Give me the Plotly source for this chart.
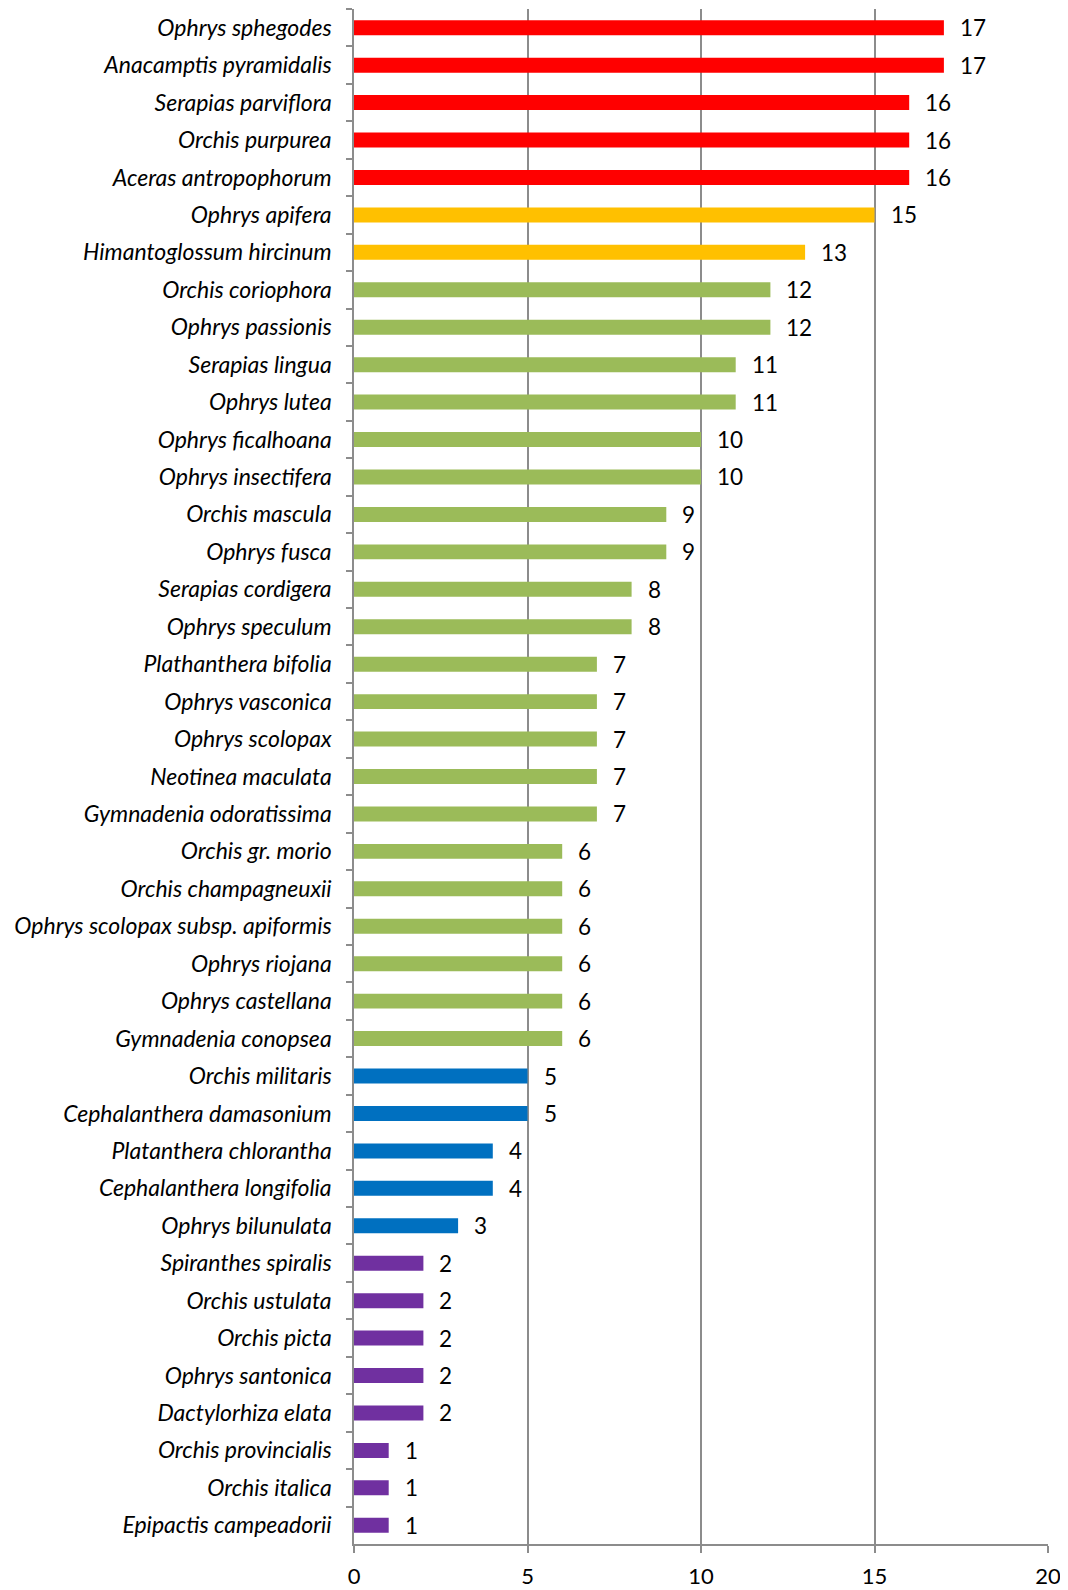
import plotly.graph_objects as go

species = [
    "Ophrys sphegodes", "Anacamptis pyramidalis", "Serapias parviflora", "Orchis purpurea",
    "Aceras antropophorum", "Ophrys apifera", "Himantoglossum hircinum", "Orchis coriophora",
    "Ophrys passionis", "Serapias lingua", "Ophrys lutea", "Ophrys ficalhoana",
    "Ophrys insectifera", "Orchis mascula", "Ophrys fusca", "Serapias cordigera",
    "Ophrys speculum", "Plathanthera bifolia", "Ophrys vasconica", "Ophrys scolopax",
    "Neotinea maculata", "Gymnadenia odoratissima", "Orchis gr. morio", "Orchis champagneuxii",
    "Ophrys scolopax subsp. apiformis", "Ophrys riojana", "Ophrys castellana", "Gymnadenia conopsea",
    "Orchis militaris", "Cephalanthera damasonium", "Platanthera chlorantha", "Cephalanthera longifolia",
    "Ophrys bilunulata", "Spiranthes spiralis", "Orchis ustulata", "Orchis picta",
    "Ophrys santonica", "Dactylorhiza elata", "Orchis provincialis", "Orchis italica",
    "Epipactis campeadorii",
]
counts = [17, 17, 16, 16, 16, 15, 13, 12, 12, 11, 11, 10, 10, 9, 9, 8, 8, 7, 7, 7, 7, 7,
          6, 6, 6, 6, 6, 6, 5, 5, 4, 4, 3, 2, 2, 2, 2, 2, 1, 1, 1]
groups = ["red"] * 5 + ["orange"] * 2 + ["green"] * 21 + ["blue"] * 5 + ["purple"] * 8
group_colors = {"red": "#FF0000", "orange": "#FFC000", "green": "#9BBB59",
                "blue": "#0070C0", "purple": "#7030A0"}
x_ticks = [0, 5, 10, 15, 20]

FONT = "Lato"

fig = go.Figure()
fig.add_trace(go.Bar(
    x=counts, y=species, orientation="h",
    marker=dict(color=[group_colors[g] for g in groups], line=dict(width=0)),
    width=0.4,
    hoverinfo="x+y",
))

for s, c in zip(species, counts):
    fig.add_annotation(x=c, y=s, text=str(c), showarrow=False, xanchor="left",
                       xshift=14, font=dict(family=FONT, size=22.5, color="#000000"))

fig.update_layout(
    width=1068, height=1590,
    margin=dict(l=346, r=28, t=1, b=54),
    paper_bgcolor="white", plot_bgcolor="white",
    showlegend=False,
    font=dict(family=FONT, color="#000000"),
)
fig.update_xaxes(
    range=[0, 20], tickvals=x_ticks, ticktext=[str(v) for v in x_ticks],
    showgrid=True, gridcolor="#8C8C8C", gridwidth=1.5,
    showline=True, linecolor="#8C8C8C", linewidth=1.5,
    ticks="outside", ticklen=7, tickcolor="#8C8C8C", tickwidth=1.5,
    tickfont=dict(family=FONT, size=22, color="#000000"),
    ticklabelstandoff=5, zeroline=False,
)
fig.update_yaxes(
    type="category", autorange="reversed",
    showline=True, linecolor="#8C8C8C", linewidth=1.5,
    ticks="outside", ticklen=6, tickcolor="#8C8C8C", tickwidth=1.5,
    tickson="boundaries",
    tickfont=dict(family=FONT, size=23, color="#000000", style="italic"),
    ticklabelstandoff=16, showgrid=False,
)

fig.write_html("out.html")
